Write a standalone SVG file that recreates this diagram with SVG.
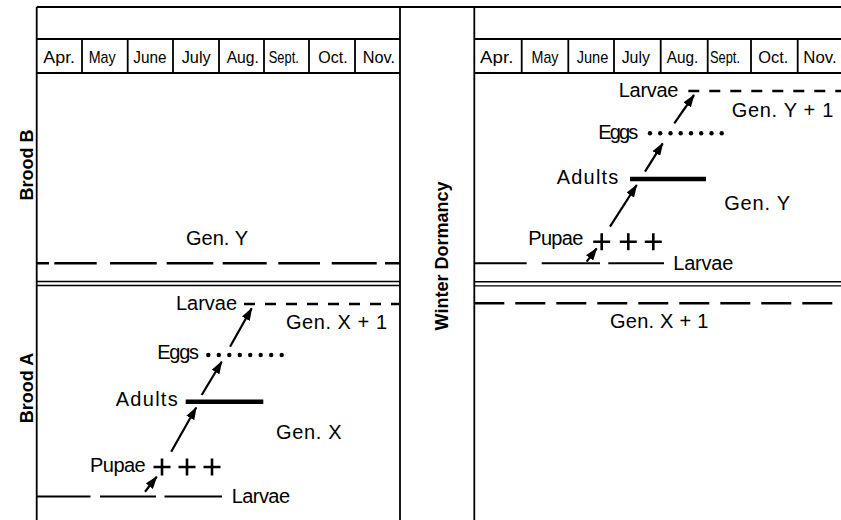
<svg xmlns="http://www.w3.org/2000/svg" width="841" height="520" viewBox="0 0 841 520">
<style>
  .frame { stroke:#000; stroke-width:1.8; fill:none; }
  .thin { stroke:#000; stroke-width:1.4; fill:none; }
  .mon { font-family:"Liberation Sans",Arial,sans-serif; font-size:17px; fill:#000; text-anchor:middle; }
  .lbl { font-family:"Liberation Sans",Arial,sans-serif; font-size:20px; fill:#000; }
  .side { font-family:"Liberation Sans",Arial,sans-serif; font-size:18px; font-weight:bold; fill:#000; text-anchor:middle; }
  .dash { stroke:#000; stroke-width:2.4; fill:none; }
  .solid { stroke:#000; stroke-width:2; fill:none; }
  .adult { stroke:#000; stroke-width:4.5; fill:none; }
  .plus { stroke:#000; stroke-width:2.6; fill:none; }
  .arrow { stroke:#000; stroke-width:2.2; fill:none; marker-end:url(#ah); }
</style>
<defs>
  <marker id="ah" markerUnits="userSpaceOnUse" markerWidth="13" markerHeight="9" refX="12" refY="4.5" orient="auto">
    <path d="M0,0 L13,4.5 L0,9 z" fill="#000"/>
  </marker>
</defs>
<rect width="841" height="520" fill="#fff"/>

<g id="frame">
  <path class="frame" d="M36.7,7 H841 M36.7,7 V520 M400,7 V520 M474.3,7 V520"/>
  <path class="frame" d="M36.7,39 H400 M36.7,73 H400 M474.3,39 H841 M474.3,73 H841"/>
  <path class="frame" d="M82,39 V73 M127.7,39 V73 M173,39 V73 M219,39 V73 M264,39 V73 M309,39 V73 M355,39 V73"/>
  <path class="frame" d="M521.7,39 V73 M568.3,39 V73 M614,39 V73 M660.7,39 V73 M707.7,39 V73 M751,39 V73 M797.7,39 V73"/>
  <path class="thin" d="M36.7,281.5 H400 M36.7,285.5 H400 M474.3,281.7 H841 M474.3,285.9 H841"/>
</g>

<g id="months-left">
  <text class="mon" x="59.2" y="63.3" textLength="31.7" lengthAdjust="spacingAndGlyphs">Apr.</text>
  <text class="mon" x="102.2" y="63.3" textLength="27" lengthAdjust="spacingAndGlyphs">May</text>
  <text class="mon" x="150" y="63.3" textLength="33.3" lengthAdjust="spacingAndGlyphs">June</text>
  <text class="mon" x="196.2" y="63.3" textLength="29" lengthAdjust="spacingAndGlyphs">July</text>
  <text class="mon" x="242.8" y="63.3" textLength="32.3" lengthAdjust="spacingAndGlyphs">Aug.</text>
  <text class="mon" x="283.8" y="63.3" textLength="30" lengthAdjust="spacingAndGlyphs">Sept.</text>
  <text class="mon" x="333" y="63.3" textLength="29.3" lengthAdjust="spacingAndGlyphs">Oct.</text>
  <text class="mon" x="378.8" y="63.3" textLength="32.3" lengthAdjust="spacingAndGlyphs">Nov.</text>
</g>
<g id="months-right">
  <text class="mon" x="496.7" y="63.3" textLength="33.3" lengthAdjust="spacingAndGlyphs">Apr.</text>
  <text class="mon" x="545" y="63.3" textLength="27" lengthAdjust="spacingAndGlyphs">May</text>
  <text class="mon" x="592.5" y="63.3" textLength="31.7" lengthAdjust="spacingAndGlyphs">June</text>
  <text class="mon" x="635.8" y="63.3" textLength="28.3" lengthAdjust="spacingAndGlyphs">July</text>
  <text class="mon" x="682.5" y="63.3" textLength="31.7" lengthAdjust="spacingAndGlyphs">Aug.</text>
  <text class="mon" x="725" y="63.3" textLength="30" lengthAdjust="spacingAndGlyphs">Sept.</text>
  <text class="mon" x="773.3" y="63.3" textLength="30" lengthAdjust="spacingAndGlyphs">Oct.</text>
  <text class="mon" x="820" y="63.3" textLength="33.3" lengthAdjust="spacingAndGlyphs">Nov.</text>
</g>

<g id="side-labels">
  <text class="side" transform="translate(33,165) rotate(-90)">Brood B</text>
  <text class="side" transform="translate(33,388) rotate(-90)">Brood A</text>
  <text class="side" transform="translate(448,256) rotate(-90)">Winter Dormancy</text>
</g>

<!-- Brood B, left panel -->
<g id="broodB-genY-left">
  <text class="lbl" x="186" y="245" textLength="62">Gen. Y</text>
  <path class="dash" d="M36.7,263.3 H49 M54.3,263.3 H96.7 M110,263.3 H156.7 M166.7,263.3 H213.3 M222.7,263.3 H266.7 M278.3,263.3 H320 M331.7,263.3 H376.7 M385,263.3 H400"/>
</g>

<!-- Brood A, left panel -->
<g id="A-larvae-start">
  <path class="solid" d="M36.7,496.5 H90.5 M100,496.5 H156 M164.5,496.5 H222"/>
  <text class="lbl" x="231.7" y="503" textLength="58.3">Larvae</text>
</g>
<g id="A-pupae">
  <text class="lbl" x="90" y="472" textLength="55.7">Pupae</text>
  <path class="plus" d="M153.5,467 H170.5 M162,458.5 V475.5 M178.5,467 H195.5 M187,458.5 V475.5 M203.5,467 H220.5 M212,458.5 V475.5"/>
</g>
<g id="A-adults">
  <text class="lbl" x="115.7" y="406" textLength="62">Adults</text>
  <path class="adult" d="M185.7,401.7 H263.3"/>
</g>
<g id="A-genX">
  <text class="lbl" x="276" y="439.3" textLength="65.7">Gen. X</text>
</g>
<g id="A-eggs">
  <text class="lbl" x="157.3" y="359" textLength="41.7">Eggs</text>
  <g fill="#000">
    <circle cx="208.3" cy="355" r="2.2"/><circle cx="218.8" cy="355" r="2.2"/><circle cx="229.3" cy="355" r="2.2"/><circle cx="239.8" cy="355" r="2.2"/>
    <circle cx="250.2" cy="355" r="2.2"/><circle cx="260.7" cy="355" r="2.2"/><circle cx="271.2" cy="355" r="2.2"/><circle cx="281.7" cy="355" r="2.2"/>
  </g>
</g>
<g id="A-larvae-next">
  <text class="lbl" x="176" y="310" textLength="61">Larvae</text>
  <path class="dash" d="M244,304 H399" stroke-dasharray="11 10"/>
  <text class="lbl" x="286" y="329.3" textLength="101">Gen. X + 1</text>
</g>

<!-- Brood B, right panel -->
<g id="B-larvae-start">
  <path class="solid" d="M474.3,263.3 H526.7 M541.7,263.3 H600 M608.3,263.3 H664"/>
  <text class="lbl" x="673.3" y="270" textLength="60">Larvae</text>
</g>
<g id="B-pupae">
  <text class="lbl" x="528.3" y="245" textLength="55">Pupae</text>
  <path class="plus" d="M593.2,241.7 H610.2 M601.7,233.2 V250.2 M619.8,241.7 H636.8 M628.3,233.2 V250.2 M644.8,241.7 H661.8 M653.3,233.2 V250.2"/>
</g>
<g id="B-adults">
  <text class="lbl" x="556.7" y="184.3" textLength="61.6">Adults</text>
  <path class="adult" d="M630,179 H706"/>
</g>
<g id="B-genY">
  <text class="lbl" x="724.3" y="210" textLength="65.7">Gen. Y</text>
</g>
<g id="B-eggs">
  <text class="lbl" x="598.3" y="139.3" textLength="40">Eggs</text>
  <g fill="#000">
    <circle cx="650" cy="133.3" r="2.2"/><circle cx="660.2" cy="133.3" r="2.2"/><circle cx="670.5" cy="133.3" r="2.2"/><circle cx="680.7" cy="133.3" r="2.2"/>
    <circle cx="691" cy="133.3" r="2.2"/><circle cx="701.2" cy="133.3" r="2.2"/><circle cx="711.5" cy="133.3" r="2.2"/><circle cx="721.7" cy="133.3" r="2.2"/>
  </g>
</g>
<g id="B-larvae-next">
  <text class="lbl" x="618.8" y="96.7" textLength="59.5">Larvae</text>
  <path class="dash" d="M688.3,91 H841" stroke-dasharray="11 10"/>
  <text class="lbl" x="731.7" y="116.7" textLength="101.6">Gen. Y + 1</text>
</g>

<!-- Brood A overwintering in right panel -->
<g id="A-genX1-right">
  <path class="dash" d="M474.3,303.3 H841" stroke-dasharray="30 11"/>
  <text class="lbl" x="610" y="328.3" textLength="98.3">Gen. X + 1</text>
</g>

<g id="connectors">
  <path class="arrow" d="M145,491.7 L156.7,476.7"/>
  <path class="arrow" d="M171.2,451.7 L196.2,407.5"/>
  <path class="arrow" d="M201.7,395 L221.7,361.7"/>
  <path class="arrow" d="M230,346.7 L251.7,308.3"/>
  <path class="arrow" d="M586.7,261.7 L596.7,248.3"/>
  <path class="arrow" d="M610,226.7 L636.7,185"/>
  <path class="arrow" d="M645,171.7 L662.7,143.3"/>
  <path class="arrow" d="M674.3,123.3 L694,95"/>
</g>
</svg>
